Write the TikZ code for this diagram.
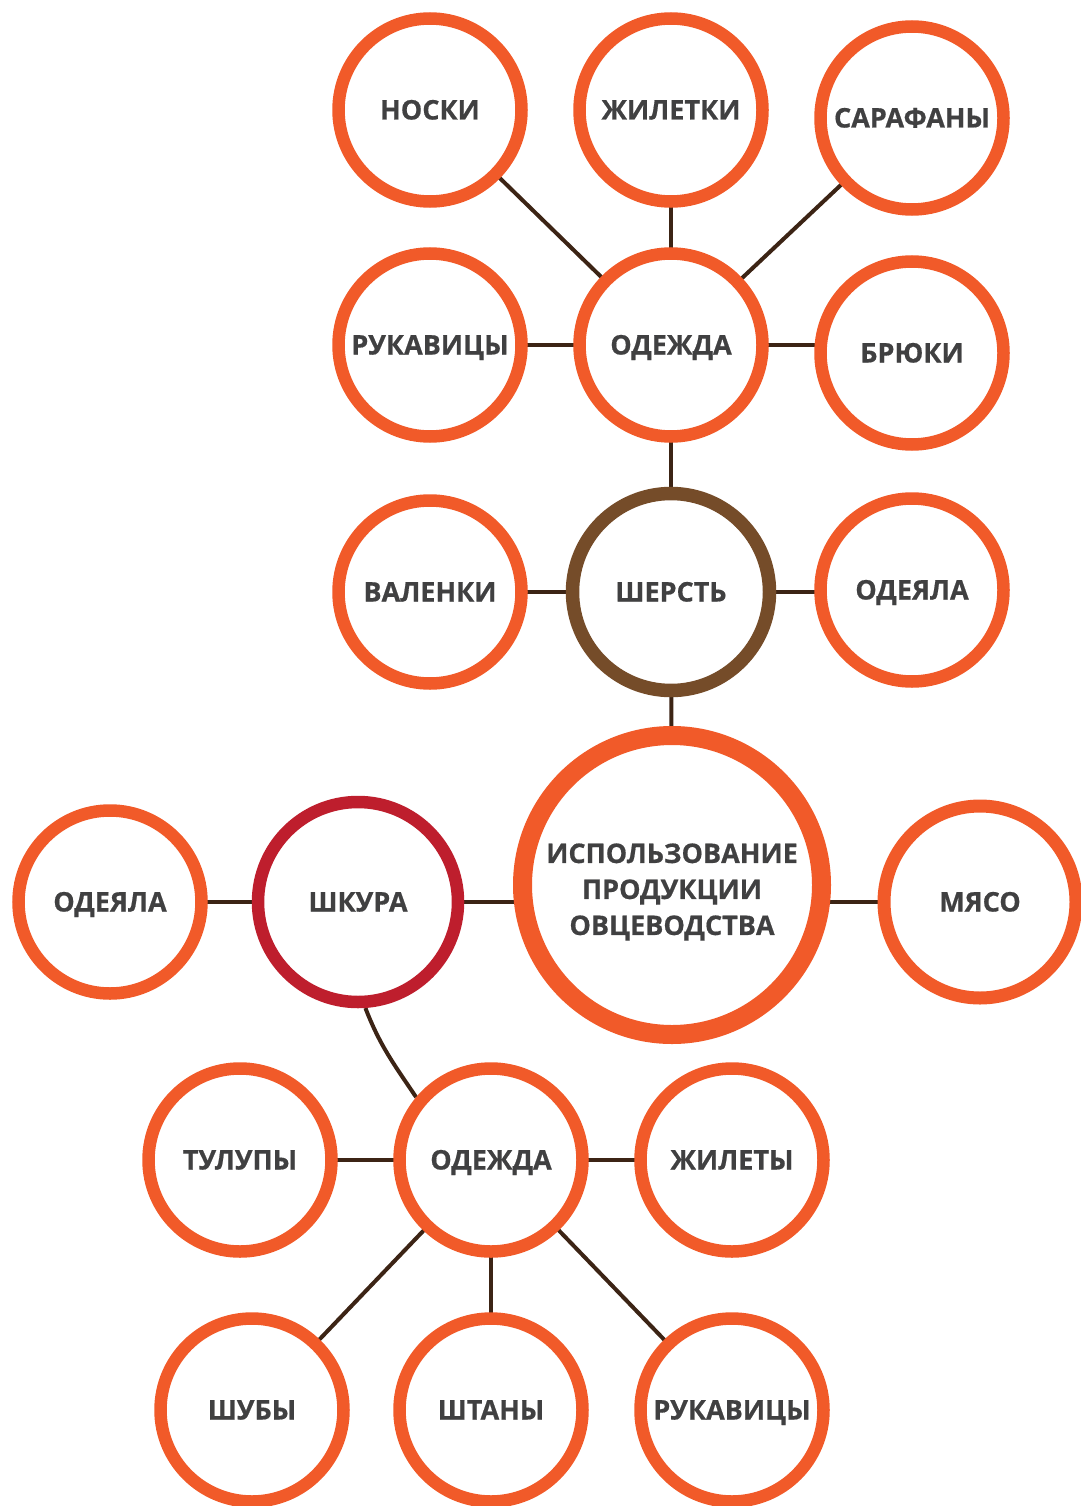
\documentclass[tikz,border=0pt]{standalone}
\usepackage{fontspec}
\setmainfont{Open Sans}[BoldFeatures={FakeBold=0.6}]
\usetikzlibrary{backgrounds}
\definecolor{orng}{HTML}{F15A29}
\definecolor{redc}{HTML}{BE1E2D}
\definecolor{brwn}{HTML}{754C29}
\definecolor{lnk}{HTML}{3C2415}
\definecolor{txt}{HTML}{404041}
\begin{document}
\begin{tikzpicture}[x=1pt,y=-1pt,
  base/.style={circle,inner sep=0pt,fill=white,text=txt,
    font=\bfseries\fontsize{27}{36}\selectfont},
  ring/.style={base,draw=orng,line width=12.5pt,minimum size=183pt,
    text height=19pt,text depth=0pt},
  wool/.style={base,draw=brwn,line width=13.5pt,minimum size=197pt,
    text height=19pt,text depth=0pt},
  hide/.style={base,draw=redc,line width=12.5pt,minimum size=200pt,
    text height=19pt,text depth=0pt},
  meat/.style={base,draw=orng,line width=13pt,minimum size=192pt,
    text height=19pt,text depth=0pt},
  hub/.style={base,draw=orng,line width=19pt,minimum size=299pt},
  hubtext/.style={inner sep=0pt,align=center,text=txt,
    font=\bfseries\fontsize{27}{36}\selectfont},
  link/.style={draw=lnk,line width=4pt}]
\useasboundingbox (0,0) rectangle (1080,1506);
% top cluster
\node[ring] (noski) at (430,110) {НОСКИ};
\node[ring] (zhiletki) at (671,110) {ЖИЛЕТКИ};
\node[ring] (sarafany) at (912,118) {САРАФАНЫ};
\node[ring] (rukavicy1) at (430,345) {РУКАВИЦЫ};
\node[ring] (odezhda1) at (671,345) {ОДЕЖДА};
\node[ring] (brjuki) at (912,353) {БРЮКИ};
\node[ring] (valenki) at (430,592) {ВАЛЕНКИ};
\node[wool] (sherst) at (671,592) {ШЕРСТЬ};
\node[ring] (odejala1) at (912,590) {ОДЕЯЛА};
% middle
\node[hub] (hub) at (672,885) {};
\node[hubtext,yshift=-7pt] (hublabel) at (hub.center) {ИСПОЛЬЗОВАНИЕ\\ПРОДУКЦИИ\\ОВЦЕВОДСТВА};
\node[meat] (mjaso) at (980,902) {МЯСО};
\node[hide] (shkura) at (358,902) {ШКУРА};
\node[ring] (odejala2) at (110,902) {ОДЕЯЛА};
% bottom cluster
\node[ring] (tulupy) at (240,1160) {ТУЛУПЫ};
\node[ring] (odezhda2) at (491,1160) {ОДЕЖДА};
\node[ring] (zhilety) at (732,1160) {ЖИЛЕТЫ};
\node[ring] (shuby) at (252,1410) {ШУБЫ};
\node[ring] (shtany) at (491,1410) {ШТАНЫ};
\node[ring] (rukavicy2) at (732,1410) {РУКАВИЦЫ};
\begin{scope}[on background layer]
\draw[link] (noski.center) -- (odezhda1.center);
\draw[link] (zhiletki.center) -- (odezhda1.center);
\draw[link] (sarafany.center) -- (odezhda1.center);
\draw[link] (rukavicy1.center) -- (odezhda1.center);
\draw[link] (odezhda1.center) -- (odezhda1.center -| brjuki.center);
\draw[link] (odezhda1.center) -- (sherst.center);
\draw[link] (valenki.center) -- (sherst.center);
\draw[link] (sherst.center) -- (sherst.center -| odejala1.center);
\draw[link] (sherst.center) -- (hub.center);
\draw[link] (odejala2.center) -- (shkura.center);
\draw[link] (shkura.center) -- (shkura.center -| hub.center);
\draw[link] (hub.center |- mjaso.center) -- (mjaso.center);
\draw[link] (shkura.-86) to[out=-69,in=124] (odezhda2.140);
\draw[link] (tulupy.center) -- (odezhda2.center);
\draw[link] (odezhda2.center) -- (zhilety.center);
\draw[link] (odezhda2.center) -- (shuby.center);
\draw[link] (odezhda2.center) -- (shtany.center);
\draw[link] (odezhda2.center) -- (rukavicy2.center);
\end{scope}
\end{tikzpicture}
\end{document}
